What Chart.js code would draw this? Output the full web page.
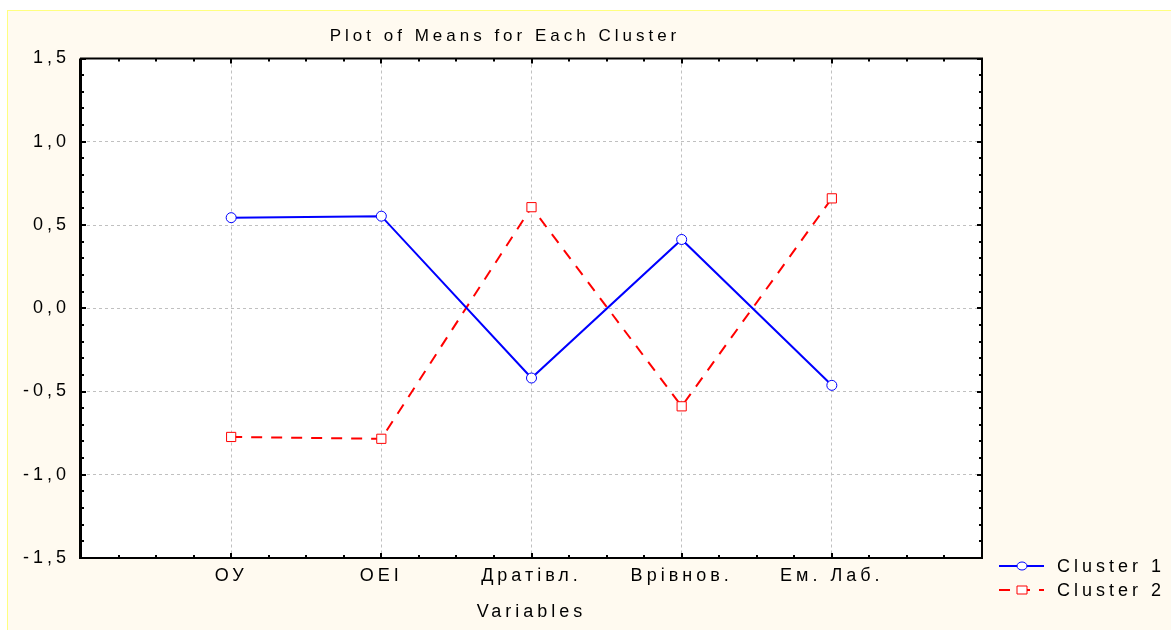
<!DOCTYPE html>
<html>
<head>
<meta charset="utf-8">
<script src="https://cdn.jsdelivr.net/npm/chart.js@4.4.1/dist/chart.umd.min.js"></script>
<style>
  html, body { margin: 0; padding: 0; background: #fff; }
  canvas { display: block; }
</style>
</head>
<body>
<canvas id="grafico" width="1171" height="630"></canvas>
<script>
// data
const variables = ["ОУ", "ОЕІ", "Дратівл.", "Врівнов.", "Ем. Лаб."];
const cluster1 = [0.544, 0.553, -0.419, 0.413, -0.463];
const cluster2 = [-0.773, -0.784, 0.607, -0.589, 0.660];
const seriesNames = ["Cluster 1", "Cluster 2"];
const yRange = [-1.5, 1.5];
const yStep = 0.5;

const fuente = '"Liberation Sans", Arial, sans-serif';
const espaciado = "4px";

// fondo crema, caja negra, marcas interiores, titulo y leyenda
const marco = {
  id: "marco",
  beforeDraw(chart) {
    const ctx = chart.ctx;
    const a = chart.chartArea;
    ctx.fillStyle = "#ffffff";
    ctx.fillRect(0, 0, chart.width, chart.height);
    ctx.fillStyle = "#fffaf0";
    ctx.fillRect(7, 10, chart.width - 7, chart.height - 10);
    ctx.fillStyle = "#ffff80";
    ctx.fillRect(7, 10, 1, chart.height - 10);
    ctx.fillRect(7, 10, chart.width - 7, 1);
    ctx.fillStyle = "#ffffff";
    ctx.fillRect(a.left, a.top, a.width, a.height);
    ctx.letterSpacing = espaciado;
  },
  afterDraw(chart) {
    const ctx = chart.ctx;
    const a = chart.chartArea;
    const xs = chart.scales.x;
    const ys = chart.scales.y;
    ctx.save();
    ctx.strokeStyle = "#000";
    ctx.lineWidth = 2;
    ctx.strokeRect(a.left, a.top, a.width, a.height);
    ctx.lineWidth = 1;
    ctx.beginPath();
    ctx.moveTo(a.left - 1.5, a.top); ctx.lineTo(a.left - 1.5, a.bottom + 1);
    ctx.stroke();

    ctx.lineWidth = 2;
    ctx.beginPath();
    for (let k = 0; k <= 30; k++) {
      const v = yRange[0] + k * 0.1;
      const y = Math.round(ys.getPixelForValue(v));
      const len = k % 5 === 0 ? 5 : 3;
      ctx.moveTo(a.left, y); ctx.lineTo(a.left + len, y);
      ctx.moveTo(a.right, y); ctx.lineTo(a.right - len, y);
    }
    for (let k = 0; k <= 24; k++) {
      const v = -1 + k * 0.25;
      const x = Math.round(xs.getPixelForValue(v));
      const len = k % 4 === 0 ? 5 : 3;
      ctx.moveTo(x, a.bottom); ctx.lineTo(x, a.bottom - len);
      ctx.moveTo(x, a.top); ctx.lineTo(x, a.top + len);
    }
    ctx.stroke();

    // titulo
    ctx.letterSpacing = espaciado;
    ctx.fillStyle = "#000";
    ctx.font = "17px " + fuente;
    ctx.textAlign = "center";
    ctx.textBaseline = "alphabetic";
    ctx.fillText("Plot of Means for Each Cluster", 505, 41);

    // leyenda
    ctx.font = "18px " + fuente;
    const ds = chart.data.datasets;
    const filas = [566, 590];
    ds.forEach((d, i) => {
      const y = filas[i];
      ctx.save();
      ctx.strokeStyle = d.borderColor;
      ctx.lineWidth = 2;
      ctx.setLineDash(d.borderDash || []);
      ctx.beginPath();
      ctx.moveTo(999, y); ctx.lineTo(1044, y);
      ctx.stroke();
      ctx.setLineDash([]);
      ctx.lineWidth = 1;
      ctx.fillStyle = "#fff";
      ctx.beginPath();
      if (d.pointStyle === "rect") {
        ctx.rect(1017, y - 4, 10, 8);
      } else {
        ctx.ellipse(1022, y, 5, 4, 0, 0, Math.PI * 2);
      }
      ctx.fill();
      ctx.stroke();
      ctx.restore();
      ctx.fillStyle = "#000";
      ctx.textAlign = "left";
      ctx.textBaseline = "middle";
      ctx.fillText(d.label, 1057, y + 1);
    });
    ctx.restore();
  }
};

const gris = (fin) => (c) => (c.tick && fin.includes(c.tick.value)) ? "rgba(0,0,0,0)" : "#c0c0c0";

const ctx = document.getElementById("grafico");
new Chart(ctx, {
  type: "line",
  data: {
    datasets: [
      {
        label: seriesNames[0],
        data: cluster1.map((v, i) => ({ x: i, y: v })),
        borderColor: "#0000ff",
        borderWidth: 2,
        pointStyle: "circle",
        pointRadius: 5,
        pointBorderWidth: 1,
        pointBackgroundColor: "#ffffff",
        pointBorderColor: "#0000ff",
        tension: 0
      },
      {
        label: seriesNames[1],
        data: cluster2.map((v, i) => ({ x: i, y: v })),
        borderColor: "#ff0000",
        borderDash: [11, 9],
        borderWidth: 2,
        pointStyle: "rect",
        pointRadius: 6.5,
        pointBorderWidth: 1,
        pointBackgroundColor: "#ffffff",
        pointBorderColor: "#ff0000",
        tension: 0
      }
    ]
  },
  options: {
    responsive: false,
    animation: false,
    layout: { padding: { left: 0, top: 58.5, right: 1171 - 982, bottom: 0 } },
    plugins: {
      legend: { display: false },
      title: { display: false },
      tooltip: { enabled: false }
    },
    scales: {
      x: {
        type: "linear",
        min: -1,
        max: 5,
        afterFit(s) { s.height = 72; },
        ticks: {
          stepSize: 1,
          autoSkip: false,
          maxRotation: 0,
          color: "#000",
          padding: 7,
          font: { family: fuente, size: 18 },
          callback: (v) => variables[v] ?? ""
        },
        grid: { color: gris([-1, 5]), drawTicks: false, lineWidth: 1 },
        border: { display: false, dash: [3, 3] },
        title: {
          display: true,
          text: "Variables",
          color: "#000",
          font: { family: fuente, size: 18 },
          padding: { top: 0, bottom: 7 }
        }
      },
      y: {
        min: yRange[0],
        max: yRange[1],
        afterFit(s) { s.width = 81; },
        ticks: {
          stepSize: yStep,
          color: "#000",
          padding: 11,
          font: { family: fuente, size: 18 },
          callback: (v) => v.toFixed(1).replace(".", ",")
        },
        grid: { color: gris([-1.5, 1.5]), drawTicks: false, lineWidth: 1 },
        border: { display: false, dash: [3, 3] }
      }
    }
  },
  plugins: [marco]
});
</script>
</body>
</html>
